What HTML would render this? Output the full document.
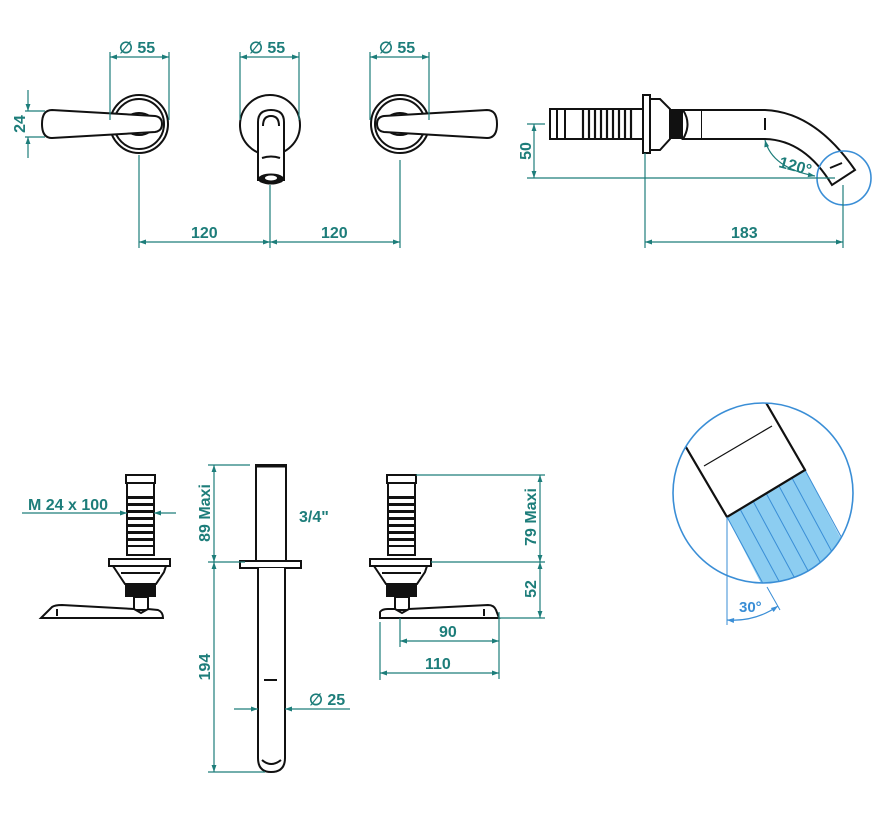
<!DOCTYPE html>
<html><head><meta charset="utf-8"><style>
html,body{margin:0;padding:0;background:#fff;}
svg{display:block;}
.d{stroke:#1d7d7a;stroke-width:1.2;fill:none;}
.k{stroke:#111;stroke-width:2;fill:none;}
.kf{stroke:#111;stroke-width:2;fill:#fff;}
.t{fill:#1d7d7a;font-family:"Liberation Sans",sans-serif;font-weight:bold;font-size:16px;}
</style></head><body>
<svg width="891" height="828" viewBox="0 0 891 828" xmlns="http://www.w3.org/2000/svg">
<defs>
<marker id="a" viewBox="0 0 10 10" refX="10" refY="5" markerWidth="9" markerHeight="7" orient="auto-start-reverse" markerUnits="userSpaceOnUse"><path d="M0,1.5 L10,5 L0,8.5z" fill="#1d7d7a"/></marker>
<marker id="b" viewBox="0 0 10 10" refX="10" refY="5" markerWidth="9" markerHeight="7" orient="auto-start-reverse" markerUnits="userSpaceOnUse"><path d="M0,1.5 L10,5 L0,8.5z" fill="#3a8ed6"/></marker>
<clipPath id="cc"><circle cx="763" cy="493" r="90"/></clipPath>
</defs>

<!-- ===== TOP LEFT HANDLE ===== -->
<circle cx="139" cy="124" r="29" class="kf"/>
<circle cx="139" cy="124" r="25" class="k" stroke-width="1.3"/>
<ellipse cx="139" cy="124" rx="15" ry="11" class="k" stroke-width="3"/>
<path d="M52,110 L155,116 Q162,117 162,124 Q162,131 155,132 L52,138 Q42,138 42,124 Q42,110 52,110Z" class="kf"/>
<line x1="110" y1="52" x2="110" y2="120" class="d"/><line x1="169" y1="52" x2="169" y2="120" class="d"/>
<line x1="110" y1="57" x2="169" y2="57" class="d" marker-start="url(#a)" marker-end="url(#a)"/>
<text x="119" y="53" class="t">∅ 55</text>
<line x1="25" y1="111" x2="45" y2="111" class="d"/><line x1="25" y1="137" x2="45" y2="137" class="d"/>
<line x1="28" y1="90" x2="28" y2="111" class="d" marker-end="url(#a)"/>
<line x1="28" y1="158" x2="28" y2="137" class="d" marker-end="url(#a)"/>
<text transform="translate(25,124) rotate(-90)" text-anchor="middle" class="t">24</text>
<line x1="139" y1="155" x2="139" y2="248" class="d"/>

<!-- center spout -->
<circle cx="270" cy="125" r="30" class="kf"/>
<path d="M258,122 Q258,110 271,110 Q284,110 284,122 L284,180 L258,180Z" class="kf"/>
<path d="M263,126 Q263,116 271,116 Q279,116 279,126" class="k" stroke-width="1.2"/>
<path d="M262,158 Q271,155 280,158" class="k" stroke-width="1"/>
<ellipse cx="271" cy="179" rx="13" ry="5.5" fill="#111"/>
<ellipse cx="271" cy="178" rx="6" ry="2.5" fill="#fff"/>
<line x1="240" y1="52" x2="240" y2="120" class="d"/><line x1="299" y1="52" x2="299" y2="120" class="d"/>
<line x1="240" y1="57" x2="299" y2="57" class="d" marker-start="url(#a)" marker-end="url(#a)"/>
<text x="249" y="53" class="t">∅ 55</text>
<line x1="270" y1="185" x2="270" y2="248" class="d"/>

<!-- right handle -->
<circle cx="400" cy="124" r="29" class="kf"/>
<circle cx="400" cy="124" r="25" class="k" stroke-width="1.3"/>
<ellipse cx="400" cy="124" rx="15" ry="11" class="k" stroke-width="3"/>
<path d="M487,110 L384,116 Q377,117 377,124 Q377,131 384,132 L487,138 Q497,138 497,124 Q497,110 487,110Z" class="kf"/>
<line x1="370" y1="52" x2="370" y2="120" class="d"/><line x1="429" y1="52" x2="429" y2="120" class="d"/>
<line x1="370" y1="57" x2="429" y2="57" class="d" marker-start="url(#a)" marker-end="url(#a)"/>
<text x="379" y="53" class="t">∅ 55</text>
<line x1="400" y1="160" x2="400" y2="248" class="d"/>

<line x1="139" y1="242" x2="270" y2="242" class="d" marker-start="url(#a)" marker-end="url(#a)"/>
<line x1="270" y1="242" x2="400" y2="242" class="d" marker-start="url(#a)" marker-end="url(#a)"/>
<text x="191" y="238" class="t">120</text>
<text x="321" y="238" class="t">120</text>

<!-- ===== SPOUT SIDE VIEW ===== -->
<rect x="550" y="109" width="93" height="30" class="kf"/>
<line x1="557" y1="109" x2="557" y2="139" class="k" stroke-width="1.2"/>
<line x1="565" y1="109" x2="565" y2="139" class="k" stroke-width="1.2"/>
<g stroke="#111" stroke-width="2.2">
<line x1="583" y1="109" x2="583" y2="139"/><line x1="589" y1="109" x2="589" y2="139"/><line x1="595" y1="109" x2="595" y2="139"/><line x1="601" y1="109" x2="601" y2="139"/><line x1="607" y1="109" x2="607" y2="139"/><line x1="613" y1="109" x2="613" y2="139"/><line x1="619" y1="109" x2="619" y2="139"/><line x1="625" y1="109" x2="625" y2="139"/><line x1="631" y1="109" x2="631" y2="139"/>
</g>
<rect x="643" y="95" width="7" height="58" class="kf"/>
<path d="M650,99 L660,99 L670,109 L670,139 L660,150 L650,150Z" class="kf"/>
<rect x="670" y="109" width="13" height="30" fill="#111"/>
<path d="M683,110 L702,110 L702,139 L683,139 Q692,124 683,110" class="kf" stroke-width="1.5"/>
<path d="M702,110 L765,110 Q815,112 855,170 L832,185 Q805,140 765,139 L702,139" class="kf"/>
<line x1="765" y1="118" x2="765" y2="130" class="k" stroke-width="1.2"/>
<line x1="830" y1="168" x2="842" y2="163" class="k" stroke-width="1.2"/>
<circle cx="844" cy="178" r="27" fill="none" stroke="#3a8ed6" stroke-width="1.6"/>
<line x1="527" y1="124" x2="545" y2="124" class="d"/>
<line x1="527" y1="178" x2="835" y2="178" class="d"/>
<line x1="534" y1="124" x2="534" y2="178" class="d" marker-start="url(#a)" marker-end="url(#a)"/>
<text transform="translate(531,151) rotate(-90)" text-anchor="middle" class="t">50</text>
<path d="M765,140 Q772,168 815,176" class="d" marker-start="url(#a)" marker-end="url(#a)"/>
<text transform="translate(778,167) rotate(15)" class="t">120°</text>
<line x1="645" y1="153" x2="645" y2="248" class="d"/>
<line x1="843" y1="185" x2="843" y2="248" class="d"/>
<line x1="645" y1="242" x2="843" y2="242" class="d" marker-start="url(#a)" marker-end="url(#a)"/>
<text x="731" y="238" class="t">183</text>

<!-- ===== DETAIL CIRCLE ===== -->
<g clip-path="url(#cc)">
<path d="M727,517 L805,470 L870,594 L790,640Z" fill="#8ccdf1"/>
<g stroke="#3a8ed6" stroke-width="1">
<line x1="740" y1="509" x2="800" y2="620"/><line x1="753" y1="501" x2="813" y2="612"/><line x1="766" y1="493" x2="826" y2="604"/><line x1="779" y1="486" x2="839" y2="597"/><line x1="792" y1="478" x2="852" y2="589"/>
<line x1="727" y1="517" x2="787" y2="628"/><line x1="805" y1="470" x2="865" y2="581"/>
</g>
<path d="M670,420 L727,517 L805,470 L750,375" fill="#fff" stroke="#111" stroke-width="2.2"/>
<line x1="704" y1="466" x2="772" y2="426" stroke="#111" stroke-width="1.2"/>
</g>
<circle cx="763" cy="493" r="90" fill="none" stroke="#3a8ed6" stroke-width="1.6"/>
<line x1="727" y1="517" x2="727" y2="625" stroke="#3a8ed6" stroke-width="1"/>
<line x1="767" y1="587" x2="780" y2="610" stroke="#3a8ed6" stroke-width="1"/>
<path d="M727,620 Q755,622 778,606" fill="none" stroke="#3a8ed6" stroke-width="1.2" marker-start="url(#b)" marker-end="url(#b)"/>
<text x="739" y="612" style="fill:#3a8ed6;font-family:'Liberation Sans',sans-serif;font-weight:bold;font-size:15px">30°</text>

<!-- ===== BOTTOM LEFT VALVE ===== -->
<g id="valve">
<rect x="126" y="475" width="29" height="8" class="kf"/>
<rect x="127" y="483" width="27" height="72" class="kf"/>
<g fill="#111">
<rect x="127" y="496" width="27" height="3"/><rect x="127" y="503" width="27" height="3"/><rect x="127" y="510" width="27" height="3"/><rect x="127" y="517" width="27" height="3"/><rect x="127" y="524" width="27" height="3"/><rect x="127" y="531" width="27" height="3"/><rect x="127" y="538" width="27" height="3"/><rect x="127" y="545" width="27" height="2"/>
</g>
<rect x="109" y="559" width="61" height="7" class="kf"/>
<path d="M113,566 L166,566 L164,572 L156,584 L125,584 L117,572Z" class="kf"/>
<line x1="121" y1="573" x2="160" y2="573" class="k" stroke-width="1"/>
<rect x="125" y="584" width="31" height="13" fill="#111"/>
<rect x="134" y="597" width="14" height="13" class="kf"/>
</g>
<path d="M41,618 L52,607 Q55,605 62,605 L134,609 L141,613 L148,609 L158,610 Q163,612 163,618Z" class="kf"/>
<line x1="57" y1="609" x2="57" y2="616" class="k" stroke-width="1"/>
<line x1="22" y1="513" x2="127" y2="513" class="d" marker-end="url(#a)"/>
<line x1="176" y1="513" x2="154" y2="513" class="d" marker-end="url(#a)"/>
<text x="28" y="510" class="t">M  24  x 100</text>

<!-- ===== CENTER TUBE ===== -->
<rect x="256" y="465" width="30" height="96" class="kf"/>
<line x1="256" y1="466" x2="286" y2="466" stroke="#111" stroke-width="3"/>
<rect x="240" y="561" width="61" height="7" class="kf"/>
<path d="M258,568 L258,758 Q258,772 271,772 Q285,772 285,758 L285,568" class="kf"/>
<path d="M262,760 Q271,768 281,760" class="k" stroke-width="1"/>
<line x1="264" y1="680" x2="277" y2="680" class="k" stroke-width="1.2"/>
<line x1="208" y1="465" x2="250" y2="465" class="d"/>
<line x1="208" y1="562" x2="245" y2="562" class="d"/>
<line x1="208" y1="772" x2="265" y2="772" class="d"/>
<line x1="214" y1="465" x2="214" y2="562" class="d" marker-start="url(#a)" marker-end="url(#a)"/>
<line x1="214" y1="562" x2="214" y2="772" class="d" marker-start="url(#a)" marker-end="url(#a)"/>
<text transform="translate(210,513) rotate(-90)" text-anchor="middle" class="t">89  Maxi</text>
<text transform="translate(210,667) rotate(-90)" text-anchor="middle" class="t">194</text>
<text x="299" y="522" class="t">3/4"</text>
<line x1="234" y1="709" x2="258" y2="709" class="d" marker-end="url(#a)"/>
<line x1="350" y1="709" x2="285" y2="709" class="d" marker-end="url(#a)"/>
<text x="309" y="705" class="t">∅  25</text>

<!-- ===== BOTTOM RIGHT VALVE ===== -->
<use href="#valve" transform="translate(261,0)"/>
<path d="M380,618 L380,612 Q382,609 388,609 L395,609 L402,613 L409,609 L488,605 Q494,605 496,610 L499,618Z" class="kf"/>
<line x1="484" y1="609" x2="484" y2="616" class="k" stroke-width="1"/>
<line x1="416" y1="475" x2="545" y2="475" class="d"/>
<line x1="431" y1="562" x2="545" y2="562" class="d"/>
<line x1="499" y1="618" x2="545" y2="618" class="d"/>
<line x1="540" y1="475" x2="540" y2="562" class="d" marker-start="url(#a)" marker-end="url(#a)"/>
<line x1="540" y1="562" x2="540" y2="618" class="d" marker-start="url(#a)" marker-end="url(#a)"/>
<text transform="translate(536,517) rotate(-90)" text-anchor="middle" class="t">79  Maxi</text>
<text transform="translate(536,589) rotate(-90)" text-anchor="middle" class="t">52</text>
<line x1="400" y1="618" x2="400" y2="647" class="d"/>
<line x1="499" y1="612" x2="499" y2="679" class="d"/>
<line x1="380" y1="622" x2="380" y2="680" class="d"/>
<line x1="400" y1="641" x2="499" y2="641" class="d" marker-start="url(#a)" marker-end="url(#a)"/>
<line x1="380" y1="673" x2="499" y2="673" class="d" marker-start="url(#a)" marker-end="url(#a)"/>
<text x="439" y="637" class="t">90</text>
<text x="425" y="669" class="t">110</text>
</svg>
</body></html>
